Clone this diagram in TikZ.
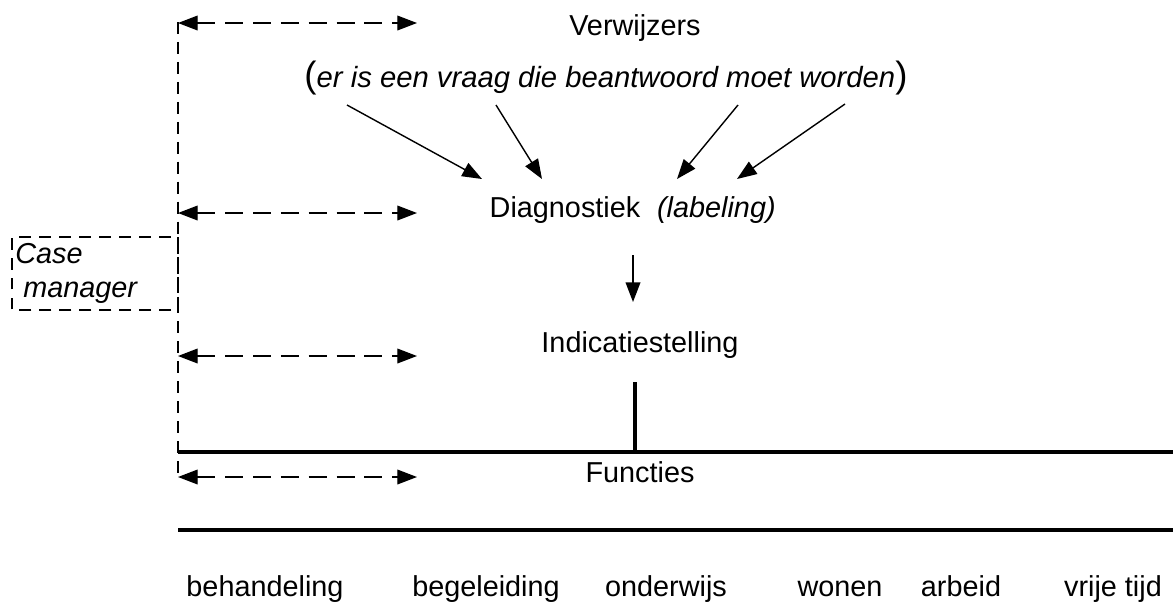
\documentclass[tikz,border=0pt]{standalone}
\usepackage{fontspec}
\setmainfont{Liberation Sans}
\usetikzlibrary{arrows.meta,positioning}

\begin{document}
\begin{tikzpicture}
      [
        every node/.style={inner sep=0pt, font=\fontsize{20.5}{24}\selectfont},
        arrowstyle/.style={draw, line width=1pt, -{Triangle[length=14pt,width=10.5pt]}},
        caseline/.style={draw, line width=0.9pt, dash pattern=on 8.5pt off 5.7pt},
        casearrow/.style={draw, line width=0.9pt, dash pattern=on 12.8pt off 7pt,
          {Triangle[length=14pt,width=10.5pt]}-{Triangle[length=14pt,width=10.5pt]}},
        thickline/.style={draw, line width=3.2pt}
      ]

      \useasboundingbox (0,0) rectangle (29.325,-15.2);

      % case manager
      \draw[caseline] (4.45,-0.55) -- (4.45,-11.925);
      \draw[caseline] (4.45,-5.925) rectangle (0.3,-7.75);
      \node[anchor=base west] (case) at (0.375,-6.575) {\itshape Case};
      \node[anchor=base west] (manager) at (0.375,-7.425) {\itshape\ manager};

      \coordinate (c1) at (4.45,-0.575);
      \coordinate (c2) at (4.45,-5.325);
      \coordinate (c3) at (4.45,-8.9);
      \coordinate (c4) at (4.45,-11.925);
      \coordinate (e1) at (10.425,-0.575);
      \coordinate (e2) at (10.425,-5.325);
      \coordinate (e3) at (10.425,-8.9);
      \coordinate (e4) at (10.425,-11.925);
      \draw[casearrow] (c1) -- (e1);
      \draw[casearrow] (c2) -- (e2);
      \draw[casearrow] (c3) -- (e3);
      \draw[casearrow] (c4) -- (e4);

      % verwijzers
      \node[anchor=base] (verw) at (15.875,-0.875) {Verwijzers};
      \node[anchor=base] (vraag) at (15.15,-2.175)
        {{\fontsize{26}{28}\selectfont(}\fontsize{20.8}{24}\selectfont\textit{er is een vraag die beantwoord moet worden}{\fontsize{26}{28}\selectfont)}};

      \coordinate (v1) at (8.675,-2.625);
      \coordinate (v2) at (12.4,-2.625);
      \coordinate (v3) at (18.45,-2.625);
      \coordinate (v4) at (21.125,-2.6);
      \coordinate (d1) at (12.05,-4.475);
      \coordinate (d2) at (13.55,-4.475);
      \coordinate (d3) at (16.925,-4.475);
      \coordinate (d4) at (18.425,-4.475);
      \draw[arrowstyle] (v1) -- (d1);
      \draw[arrowstyle] (v2) -- (d2);
      \draw[arrowstyle] (v3) -- (d3);
      \draw[arrowstyle] (v4) -- (d4);

      % diagnostiek
      \node[anchor=base] (diag) at (14.125,-5.425) {Diagnostiek};
      \node[anchor=base] (label) at (17.91,-5.425) {\itshape (labeling)};

      \coordinate (a1) at (15.825,-6.375);
      \coordinate (a2) at (15.825,-7.55);
      \draw[arrowstyle] (a1) -- (a2);

      % indicatie
      \node[anchor=base] (ind) at (16,-8.8) {Indicatiestelling};
      \coordinate (i1) at (15.875,-9.55);
      \coordinate (i2) at (15.875,-11.3);
      \draw[thickline] (i1) -- (i2);

      % functies
      \coordinate (f1) at (4.45,-11.3);
      \coordinate (f2) at (29.325,-11.3);
      \coordinate (f3) at (4.45,-13.25);
      \coordinate (f4) at (29.325,-13.25);
      \draw[thickline] (f1) -- (f2);
      \node[anchor=base] (func) at (16,-12.05) {Functies};
      \draw[thickline] (f3) -- (f4);

      \node[anchor=base] (beh) at (6.625,-14.9) {behandeling};
      \node[anchor=base] (beg) at (12.15,-14.9) {begeleiding};
      \node[anchor=base] (ond) at (16.65,-14.9) {onderwijs};
      \node[anchor=base] (won) at (21.0,-14.9) {wonen};
      \node[anchor=base] (arb) at (24.025,-14.9) {arbeid};
      \node[anchor=base] (vrij) at (27.825,-14.9) {vrije tijd};

    \end{tikzpicture}
\end{document}
